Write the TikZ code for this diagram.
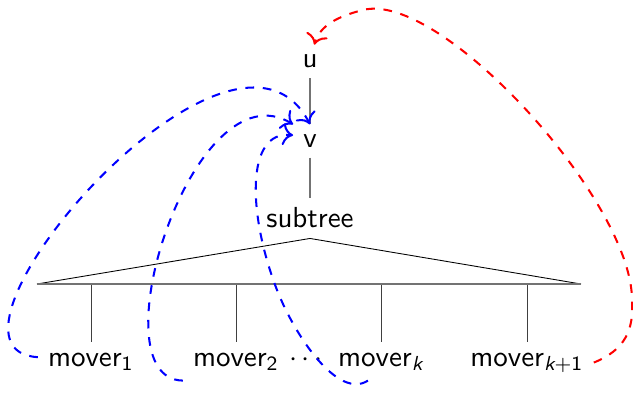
\documentclass[tikz,border=0pt]{standalone}
\usetikzlibrary{arrows.meta}
\begin{document}
\begin{tikzpicture}[x=0.345pt,y=-0.345pt,
  every node/.style={font=\sffamily},
  lbl/.style={inner sep=3.33pt},
  treeedge/.style={draw=black!55,line width=0.75pt},
  thinedge/.style={draw=black!75,line width=0.3pt},
  blueflow/.style={draw=blue,dashed,line width=0.7pt,-{To[scale=1.15]}},
  redflow/.style={draw=red,dashed,line width=0.7pt,-{To[scale=1.15]}}]
\useasboundingbox (0,0) rectangle (633,393);
% tree nodes
\node[lbl] (u) at (310,61.5) {u};
\node[lbl] (v) at (310,141) {v};
\node[lbl] (st) at (310,218) {subtree};
\coordinate (bl) at (37,284);
\coordinate (br) at (581,284);
\coordinate (b1) at (91,285);
\coordinate (b2) at (236,285);
\coordinate (bk) at (381,285);
\coordinate (bk1) at (527,285);
\node[lbl,anchor=base] (m1) at (91,366) {mover\textsubscript{1}};
\node[lbl,anchor=base] (m2) at (236,366) {mover\textsubscript{2}};
\node[lbl,anchor=base] (dots) at (306,366) {$\cdots$};
\node[lbl,anchor=base] (mk) at (381,366) {mover\textsubscript{\itshape k}};
\node[lbl,anchor=base] (mk1) at (527,366) {mover\textsubscript{\itshape k\upshape +1}};
% tree edges
\draw[treeedge] (u) -- (v);
\draw[treeedge] (v) -- (st);
\draw[thinedge,draw=black] (bl) -- (st.south) -- (br);
\draw[treeedge] (bl) -- (br);
\draw[thinedge] (b1) -- (m1.north);
\draw[thinedge] (b2) -- (m2.north);
\draw[thinedge] (bk) -- (mk.north);
\draw[thinedge] (bk1) -- (mk1.north);
% blue flows
\draw[blueflow] ([yshift=1.5pt]m1.west) .. controls (-90,350) and (232,-27) .. (v.north);
\draw[blueflow] (m2.south west) .. controls (94,379) and (193,63) .. (v.north west);
\draw[blueflow] ([xshift=-4.5pt]mk.south) .. controls (338,400) and (295,336) .. (277,290)
   .. controls (248,215) and (245,130) .. ([yshift=2pt]v.west);
% red flow
\draw[redflow] (mk1.east) .. controls (625,350) and (634,330) .. (632,300)
   .. controls (632,200) and (440,-10) .. (363,10)
   .. controls (339,16) and (320,25) .. ([xshift=1.5pt]u.north);
\end{tikzpicture}
\end{document}
